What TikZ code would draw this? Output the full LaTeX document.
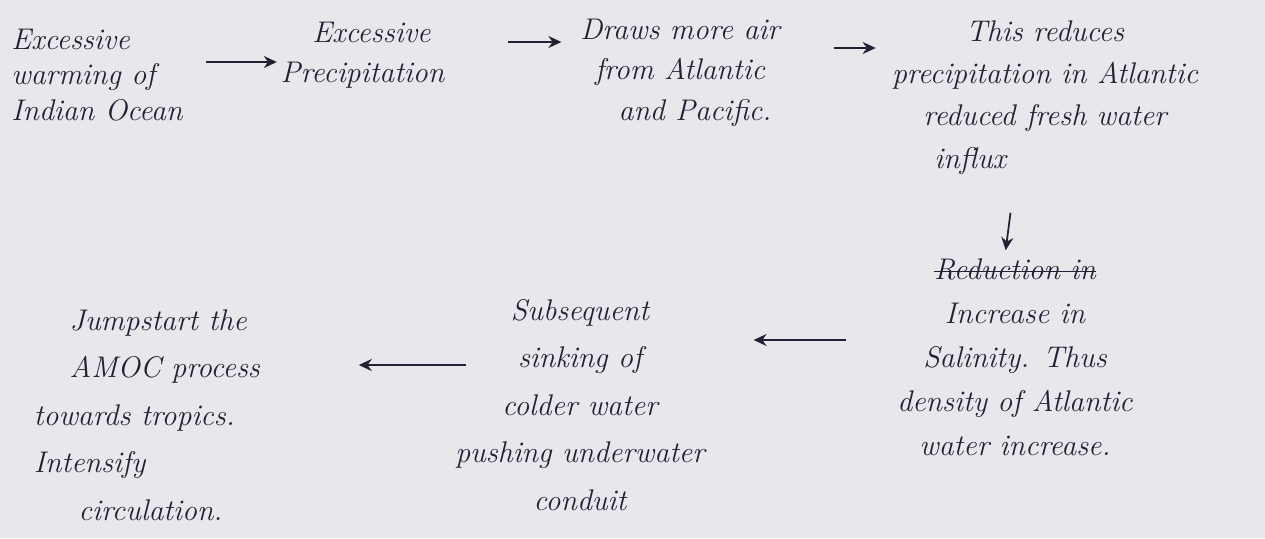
\documentclass[tikz,border=0pt]{standalone}
\usetikzlibrary{arrows.meta,positioning}
\definecolor{paper}{RGB}{231,231,236}
\definecolor{pen}{RGB}{38,32,52}
\newcommand\struck[1]{\setbox0\hbox{#1}\rlap{\rule[0.6ex]{\wd0}{0.8pt}}\box0}
\tikzset{
  >={Stealth[length=2.6mm,width=2.4mm]},
  note/.style={text=pen,font=\fontsize{17}{23}\selectfont\itshape,align=#1,inner sep=2pt},
  note/.default=center,
  roomy/.style={font=\fontsize{17}{27}\selectfont\itshape},
  flow/.style={->,line width=1pt,draw=pen},
}

\begin{document}
\begin{tikzpicture}
    \fill[paper] (0,0) rectangle (25.3,-10.76);
    \useasboundingbox (0,0) rectangle (25.3,-10.76);
    % top row
    \node[note=left,anchor=west,font=\fontsize{17}{20}\selectfont\itshape] (warm) at (0.15,-1.5) {Excessive\\warming of\\Indian Ocean};
    \node[note] (rain) at (7.25,-1.1) {\hspace*{0.6em}Excessive\\Precipitation};
    \node[note] (air) at (13.6,-1.45) {Draws more air\\from Atlantic\\\hspace*{1em}and Pacific.};
    \node[note,font=\fontsize{17}{24}\selectfont\itshape] (fresh) at (20.9,-1.95) {This reduces\\precipitation in Atlantic\\reduced fresh water\\influx\hspace*{5em}};
    % bottom row
    \node[note,font=\fontsize{17}{25}\selectfont\itshape] (salt) at (20.3,-7.15) {\struck{Reduction in}\\Increase in\\Salinity. Thus\\density of Atlantic\\water increase.};
    \node[note,roomy] (sink) at (11.6,-8.1) {Subsequent\\sinking of\\colder water\\pushing underwater\\conduit};
    \node[note=left,roomy,anchor=west] (amoc) at (0.6,-8.3) {\hspace*{1.2em}Jumpstart the\\\hspace*{1.2em}AMOC process\\towards tropics.\\Intensify\\\hspace*{1.5em}circulation.};
    % arrow rows
    \coordinate (r1) at (0,-1.24);
    \coordinate (r2) at (0,-0.84);
    \coordinate (r3) at (0,-0.96);
    \coordinate (r5) at (0,-6.8);
    \coordinate (r6) at (0,-7.3);
    \draw[flow,shorten <=0.4cm] (warm.east |- r1) -- (rain.west |- r1);
    \draw[flow,shorten <=1.2cm,shorten >=0.3cm] (rain.east |- r2) -- (air.west |- r2);
    \draw[flow,shorten <=1cm,shorten >=0.25cm] (air.east |- r3) -- (fresh.west |- r3);
    \draw[flow,shorten <=0.7cm,shorten >=0.1cm] ([xshift=-6mm]fresh.south) -- ([xshift=-2mm]salt.north);
    \draw[flow,shorten <=0.95cm,shorten >=0.9cm] (salt.west |- r5) -- (sink.east |- r5);
    \draw[flow,shorten <=-0.3cm,shorten >=1.9cm] (sink.west |- r6) -- (amoc.east |- r6);
  \end{tikzpicture}
\end{document}
